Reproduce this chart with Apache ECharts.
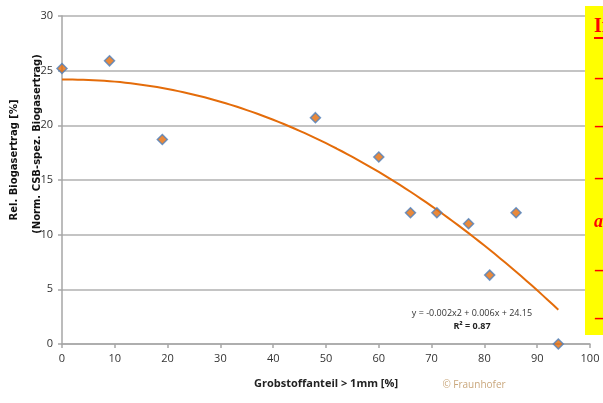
<!DOCTYPE html>
<html>
<head>
<meta charset="utf-8">
<script src="https://cdn.jsdelivr.net/npm/echarts@6/dist/echarts.min.js"></script>
<style>
html,body{margin:0;padding:0;background:#fff;}
#c{width:603px;height:403px;}
</style>
</head>
<body>
<div id="c"></div>
<script>
// Data
var grobstoff = [0, 9, 19, 48, 60, 66, 71, 77, 81, 86, 94];
var ertrag = [25.2, 25.9, 18.7, 20.7, 17.1, 12.0, 12.0, 11.0, 6.3, 12.0, 0];
var xTicks = [0, 10, 20, 30, 40, 50, 60, 70, 80, 90, 100];
var yTicks = [0, 5, 10, 15, 20, 25, 30];
var eqText = 'y = -0.002x2 + 0.006x + 24.15';
var r2Text = 'R² = 0.87';

// Polynomial (order 2) least-squares trendline, as the spreadsheet computes it
function polyFit2(xs, ys) {
  var s = [0,0,0,0,0], t = [0,0,0];
  for (var i = 0; i < xs.length; i++) {
    var p = 1;
    for (var k = 0; k < 5; k++) { s[k] += p; if (k < 3) t[k] += p * ys[i]; p *= xs[i]; }
  }
  var A = [[s[0], s[1], s[2], t[0]], [s[1], s[2], s[3], t[1]], [s[2], s[3], s[4], t[2]]];
  for (var c = 0; c < 3; c++) {
    for (var r = c + 1; r < 3; r++) {
      var f = A[r][c] / A[c][c];
      for (var j = c; j < 4; j++) A[r][j] -= f * A[c][j];
    }
  }
  var sol = [0,0,0];
  for (var r2 = 2; r2 >= 0; r2--) {
    var v = A[r2][3];
    for (var j2 = r2 + 1; j2 < 3; j2++) v -= A[r2][j2] * sol[j2];
    sol[r2] = v / A[r2][r2];
  }
  return sol; // c0, c1, c2
}
var coef = polyFit2(grobstoff, ertrag);
var xmin = Math.min.apply(null, grobstoff), xmax = Math.max.apply(null, grobstoff);
var trend = [];
for (var x = xmin; x <= xmax; x += 1) trend.push([x, coef[0] + coef[1] * x + coef[2] * x * x]);

var pts = grobstoff.map(function (v, i) { return [v, ertrag[i]]; });

var chart = echarts.init(document.getElementById('c'));
var font = '"Open Sans", "DejaVu Sans", sans-serif';
var serif = '"Liberation Serif", "DejaVu Serif", serif';
var dash = function (y) {
  return { type: 'text', z: 101, style: { text: '–', x: 595, y: y, textVerticalAlign: 'middle', font: 'bold 22px ' + serif, fill: '#ff0000' } };
};
chart.setOption({
  animation: false,
  backgroundColor: '#ffffff',
  grid: { left: 62, right: 13, top: 16, bottom: 59, containLabel: false },
  xAxis: {
    type: 'value', min: 0, max: 100, interval: 10,
    name: 'Grobstoffanteil > 1mm [%]', nameLocation: 'middle', nameGap: 34,
    nameTextStyle: { fontFamily: font, fontSize: 11, fontWeight: 'bold', color: '#222' },
    axisLine: { show: true, onZero: false, lineStyle: { color: '#a6a6a6', width: 1.5 } },
    axisTick: { show: true, length: 4, lineStyle: { color: '#a6a6a6', width: 1.5 } },
    axisLabel: { fontFamily: font, fontSize: 11, color: '#333', margin: 9 },
    splitLine: { show: false }
  },
  yAxis: {
    type: 'value', min: 0, max: 30, interval: 5,
    axisLine: { show: true, onZero: false, lineStyle: { color: '#a6a6a6', width: 1.5 } },
    axisTick: { show: true, length: 4, lineStyle: { color: '#a6a6a6', width: 1.5 } },
    axisLabel: { fontFamily: font, fontSize: 11, color: '#333', margin: 9 },
    splitLine: { show: true, lineStyle: { color: '#b0b0b0', width: 1.5 } }
  },
  series: [
    {
      type: 'line', data: trend, showSymbol: false, symbol: 'none',
      lineStyle: { color: '#e46c0a', width: 2 }, z: 2, silent: true
    },
    {
      type: 'scatter', data: pts, symbol: 'diamond', symbolSize: 10,
      itemStyle: { color: '#e46c0a', borderColor: '#4f81bd', borderWidth: 1.5 }, z: 3
    }
  ],
  graphic: [
    { type: 'text', style: { text: eqText, x: 472, y: 313, textAlign: 'center', textVerticalAlign: 'middle', font: '9px ' + font, fill: '#333' } },
    { type: 'text', style: { text: r2Text, x: 472, y: 326, textAlign: 'center', textVerticalAlign: 'middle', font: 'bold 9px ' + font, fill: '#222' } },
    { type: 'text', style: { text: '© Fraunhofer', x: 474, y: 385, textAlign: 'center', textVerticalAlign: 'middle', font: '10px ' + font, fill: '#c9a77c' } },
    { type: 'text', rotation: Math.PI / 2, x: 14, y: 160, style: { text: 'Rel. Biogasertrag [%]', textAlign: 'center', textVerticalAlign: 'middle', font: 'bold 10px "DejaVu Sans", sans-serif', fill: '#111' } },
    { type: 'text', rotation: Math.PI / 2, x: 37, y: 144, style: { text: '(Norm. CSB-spez. Biogasertrag)', textAlign: 'center', textVerticalAlign: 'middle', font: 'bold 10px "DejaVu Sans", sans-serif', fill: '#111' } },
    { type: 'rect', shape: { x: 585, y: 6, width: 18, height: 329 }, style: { fill: '#ffff00' }, z: 100 },
    { type: 'text', z: 101, style: { text: 'Interpretation', x: 594, y: 27, textVerticalAlign: 'middle', font: 'bold 20px ' + serif, fill: '#ff0000' } },
    { type: 'rect', z: 101, shape: { x: 594, y: 37, width: 12, height: 2 }, style: { fill: '#ff0000' } },
    dash(78), dash(126), dash(178),
    { type: 'text', z: 101, style: { text: 'abnehmend', x: 594, y: 222, textVerticalAlign: 'middle', font: 'italic bold 18px ' + serif, fill: '#ff0000' } },
    dash(270), dash(318)
  ]
});
</script>
</body>
</html>
